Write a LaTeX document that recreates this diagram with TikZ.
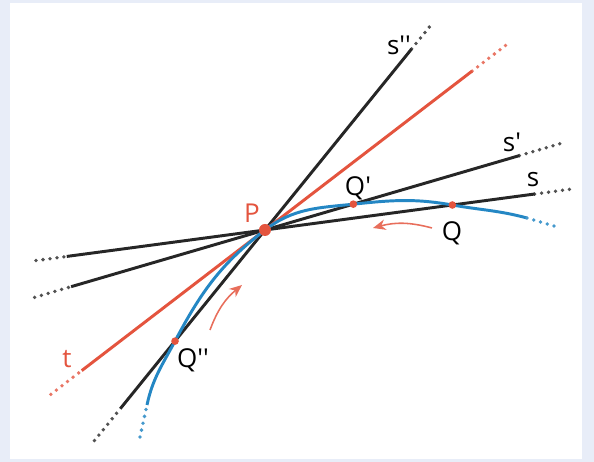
\documentclass[tikz,border=0pt]{standalone}
\usepackage{fontspec}
\newfontfamily\lblfont{Open Sans}
\usepackage{tikz}
\usetikzlibrary{arrows.meta,positioning,calc}
\definecolor{framebg}{RGB}{232,237,248}
\definecolor{lineblack}{RGB}{38,38,38}
\definecolor{linered}{RGB}{228,84,62}
\definecolor{curveblue}{RGB}{36,135,196}

\begin{document}
\begin{tikzpicture}[x=0.25mm, y=0.25mm,
  lbl/.style={font=\lblfont\fontsize{18.5}{20}\selectfont, inner sep=0pt},
  dotend/.style={line width=2.7pt, dash pattern=on 0pt off 5pt, line cap=round},
  motion/.style={linered!85, line width=1.1pt, -{Stealth[length=9pt,width=7.5pt]}}]
% frame
\fill[framebg] (-265,-232) rectangle (329,230);
\fill[white] (-255,-229) rectangle (317,227);
\useasboundingbox (-265,-232) rectangle (329,230);
\coordinate (P) at (0,0);
% secants s, s', s'' and tangent t through P
\foreach \a/\la/\lb/\ra/\rb/\c in {7.6/200/231/272/309/lineblack,
    16.3/202/240/265/308/lineblack, 51/230/271/233/265/lineblack,
    37.5/231/270/261/306/linered} {
  \draw[\c!80, dotend] (\a+180:\lb) -- (\a+180:\la);
  \draw[\c!80, dotend] (\a:\ra) -- (\a:\rb);
  \draw[\c, line width=2.1pt] (\a+180:\la) -- (\a:\ra);
}
\coordinate (Qpp) at (231:143);
\coordinate (Qp) at (16.3:92);
\coordinate (Q) at (7.6:189);
% curve
\draw[curveblue!85, dotend] (-125,-207) -- (-118,-175);
\draw[curveblue, line width=2.1pt] (-118,-175) to[out=78,in=242] (Qpp)
  to[out=62,in=217.5] (P) to[out=37.5,in=186] (Qp) to[out=6,in=170] (Q)
  to[out=-10,in=165] (262,12);
\draw[curveblue!85, dotend] (262,12) -- (289,4);
\fill[linered] (P) circle (6);
\foreach \q in {Qpp,Qp,Q} \fill[linered] (\q) circle (3.8);
% movement of Q and Q''
\coordinate (a1) at (167,2);
\coordinate (a2) at (108,2);
\draw[motion] (a1) to[bend right=15] (a2);
\coordinate (b1) at (-55,-100);
\coordinate (b2) at (-23,-55);
\draw[motion] (b1) to[bend left=15] (b2);
% labels
\node[lbl, text=linered] (labP) at (-13,17) {P};
\node[lbl, text=linered] (labt) at (-198,-129) {t};
\node[lbl] (labs) at (268,50) {s};
\node[lbl] (labs1) at (247,88) {s'};
\node[lbl] (labs2) at (134,185) {s''};
\node[lbl] (labQ) at (187,-3) {Q};
\node[lbl] (labQ1) at (93,42) {Q'};
\node[lbl] (labQ2) at (-72,-130) {Q''};
\end{tikzpicture}
\end{document}
